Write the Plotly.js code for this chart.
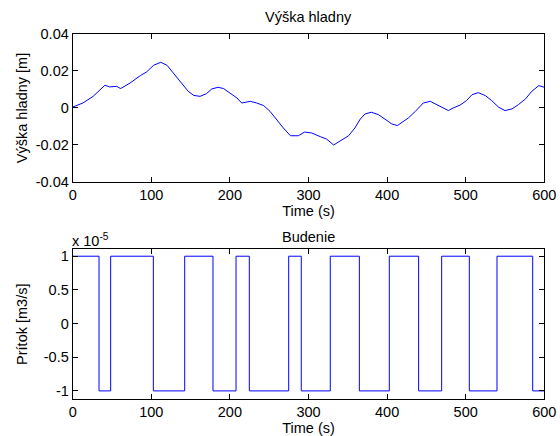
<!DOCTYPE html>
<html>
<head>
<meta charset="utf-8">
<script src="https://cdn.plot.ly/plotly-3.0.1.min.js"></script>
<style>html,body{margin:0;padding:0;background:#fff;}#chart{width:560px;height:436px;}</style>
</head>
<body>
<div id="chart"></div>
<script>
// Top panel: water level [m] vs time [s]
var levelTime = [0, 13, 26, 37, 41, 47, 56, 61, 73, 86,
                 94, 103, 112, 120, 128, 139, 147, 154, 162, 170,
                 177, 185, 192, 200, 209, 215, 226, 234, 243, 251,
                 259, 268, 277, 287, 295, 304, 315, 323, 332, 340,
                 351, 359, 366, 372, 380, 389, 397, 406, 413, 421,
                 427, 436, 446, 455, 463, 472, 478, 484, 493, 501,
                 508, 516, 525, 533, 542, 550, 559, 567, 576, 584,
                 593, 600];
var levelValue = [0.0005, 0.0027, 0.0063, 0.0108, 0.0123, 0.0114, 0.0117, 0.0105, 0.0135, 0.0175,
                  0.0195, 0.0231, 0.0247, 0.0231, 0.0189, 0.0135, 0.0090, 0.0068, 0.0063, 0.0077,
                  0.0103, 0.0112, 0.0105, 0.0081, 0.0054, 0.0027, 0.0036, 0.0027, 0.0013, -0.0018,
                  -0.0063, -0.0108, -0.0150, -0.0150, -0.0130, -0.0135, -0.0155, -0.0168, -0.0200, -0.0180,
                  -0.0150, -0.0108, -0.0059, -0.0032, -0.0023, -0.0036, -0.0059, -0.0086, -0.0095, -0.0074,
                  -0.0054, -0.0018, 0.0027, 0.0036, 0.0018, 0.0000, -0.0014, 0.0000, 0.0016, 0.0040,
                  0.0072, 0.0083, 0.0067, 0.0040, 0.0004, -0.0014, -0.0005, 0.0018, 0.0049, 0.0090,
                  0.0121, 0.0112];

// Bottom panel: inflow excitation, switching times [s] and levels [x 1e-5 m3/s]
var switchTime = [0, 33.5, 48.3, 102.6, 142.5, 178.5, 207.8, 224.7, 274.8, 290.8, 327.7, 364.7, 402.8, 440.1, 469.4, 504.6, 539.8, 585.2, 600];
var switchLevel = [1, -1, 1, -1, 1, -1, 1, -1, 1, -1, 1, -1, 1, -1, 1, -1, 1, -1, -1];
var inflowScale = 1e-5;

var xTicks = [0, 100, 200, 300, 400, 500, 600];
var yTopTicks = [-0.04, -0.02, 0, 0.02, 0.04];
var yTopLabels = ['-0.04', '-0.02', '0', '0.02', '0.04'];
var yBotTicks = [-1, -0.5, 0, 0.5, 1];
var yBotLabels = ['-1', '-0.5', '0', '0.5', '1'];

var inflow = switchLevel.map(function(v){ return v * inflowScale; });

var font = {family: 'Liberation Sans, Arial, sans-serif', size: 14.5, color: '#000'};

var axisCommon = {
  showline: true, mirror: 'ticks', linecolor: '#000', linewidth: 1,
  ticks: 'inside', ticklen: 5, tickcolor: '#000', showgrid: false, zeroline: false,
  tickfont: font
};

var traces = [
  {x: levelTime, y: levelValue, type: 'scatter', mode: 'lines', line: {color: '#0000ff', width: 1}, xaxis: 'x', yaxis: 'y', hoverinfo: 'skip'},
  {x: switchTime, y: inflow, type: 'scatter', mode: 'lines', line: {color: '#0000ff', width: 1, shape: 'hv'}, xaxis: 'x2', yaxis: 'y2', hoverinfo: 'skip'}
];

var layout = {
  width: 560, height: 436,
  margin: {l: 0, r: 0, t: 0, b: 0},
  paper_bgcolor: '#fff', plot_bgcolor: '#fff',
  showlegend: false,
  font: font,
  xaxis: Object.assign({}, axisCommon, {domain: [0.1298, 0.972], range: [0, 600], tickvals: xTicks, anchor: 'y',
    title: {text: 'Time (s)', font: font, standoff: 2}}),
  yaxis: Object.assign({}, axisCommon, {domain: [0.5826, 0.922], range: [-0.04, 0.04], tickvals: yTopTicks, ticktext: yTopLabels, anchor: 'x',
    title: {text: 'Výška hladny [m]', font: font, standoff: 4}}),
  xaxis2: Object.assign({}, axisCommon, {domain: [0.1298, 0.972], range: [0, 600], tickvals: xTicks, anchor: 'y2',
    title: {text: 'Time (s)', font: font, standoff: 2}}),
  yaxis2: Object.assign({}, axisCommon, {domain: [0.0849, 0.4278], range: [-1.12e-5, 1.1e-5],
    tickvals: yBotTicks.map(function(v){return v*inflowScale;}), ticktext: yBotLabels, anchor: 'x2',
    title: {text: 'Prítok [m3/s]', font: font, standoff: 12}}),
  annotations: [
    {text: 'Výška hladny', x: 0.551, y: 1 - 17/436, xref: 'paper', yref: 'paper', showarrow: false, font: font, xanchor: 'center', yanchor: 'middle'},
    {text: 'Budenie', x: 0.551, y: 1 - 237/436, xref: 'paper', yref: 'paper', showarrow: false, font: font, xanchor: 'center', yanchor: 'middle'},
    {text: 'x 10<sup>-5</sup>', x: 70/560, y: 1 - 240/436, xref: 'paper', yref: 'paper', showarrow: false, font: font, xanchor: 'left', yanchor: 'middle'}
  ]
};

Plotly.newPlot('chart', traces, layout, {staticPlot: true, displayModeBar: false});
</script>
</body>
</html>
